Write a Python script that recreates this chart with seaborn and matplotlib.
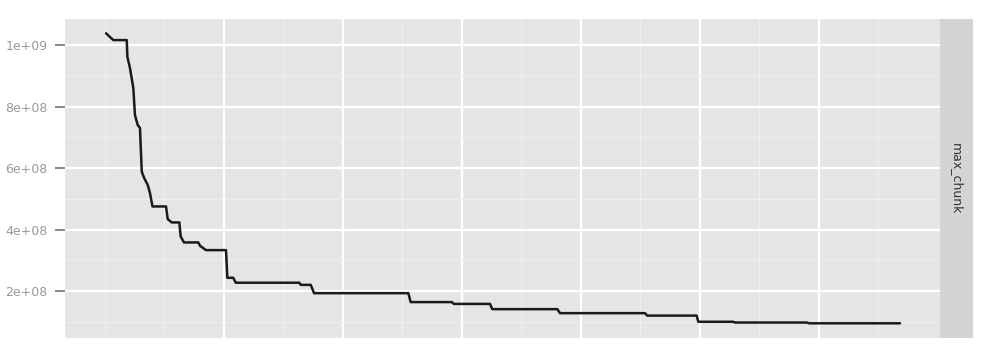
import matplotlib
matplotlib.use("Agg")
import matplotlib.pyplot as plt
import seaborn as sns
import pandas as pd
import numpy as np

# ---- data ----
rank = [13, 74, 187, 192, 214, 242, 256, 279, 298, 313, 334, 363, 382, 403, 517,
        531, 565, 629, 640, 668, 788, 803, 853, 1021, 1032, 1082, 1103, 1637, 1649,
        1733, 1761, 2553, 2573, 2918, 2937, 3239, 3259, 3805, 3828, 4542, 4561,
        4976, 4990, 5282, 5298, 5903, 5920, 6685]
max_chunk = [10.38, 10.16, 10.16, 9.62, 9.25, 8.60, 7.72, 7.40, 7.30, 5.88, 5.67,
             5.45, 5.19, 4.75, 4.75, 4.34, 4.23, 4.23, 3.77, 3.58, 3.58, 3.47,
             3.33, 3.33, 2.43, 2.43, 2.27, 2.27, 2.20, 2.20, 1.93, 1.93, 1.64,
             1.64, 1.58, 1.58, 1.41, 1.41, 1.28, 1.28, 1.20, 1.20, 1.00, 1.00,
             0.975, 0.975, 0.95, 0.95]  # in units of 1e8
y_ticks = [2e8, 4e8, 6e8, 8e8, 1e9]
y_tick_labels = ["2e+08", "4e+08", "6e+08", "8e+08", "1e+09"]
x_major = [1000, 2000, 3000, 4000, 5000, 6000]
x_minor = [0, 500, 1500, 2500, 3500, 4500, 5500, 6500]
facet_label = "max_chunk"

df = pd.DataFrame({"rank": rank, "value": np.array(max_chunk) * 1e8})

sns.set_theme(style="darkgrid")
plt.rcParams["font.family"] = ["DejaVu Sans"]

fig = plt.figure(figsize=(10, 3.49), dpi=100)
fig.patch.set_facecolor("white")
ax = fig.add_axes([0.065, 1 - 338 / 349, 0.875, (338 - 19) / 349])
strip = fig.add_axes([0.94, 1 - 338 / 349, 0.033, (338 - 19) / 349])

sns.lineplot(data=df, x="rank", y="value", ax=ax, color="#1a1a1a",
             linewidth=1.8, estimator=None, sort=False)

ax.set_facecolor("#E5E5E5")
ax.set_xlim(-332, 7021)
ax.set_ylim(0.472e8, 10.846e8)
ax.set_xticks(x_major)
ax.set_xticks(x_minor, minor=True)
ax.set_yticks(y_ticks)
ax.set_yticklabels(y_tick_labels)
ax.set_yticks([1e8, 3e8, 5e8, 7e8, 9e8], minor=True)
ax.grid(True, which="major", color="white", linewidth=1.6)
ax.grid(True, which="minor", color="#F0F0F0", linewidth=0.7)
ax.set_axisbelow(True)
ax.tick_params(axis="x", which="both", length=0, labelbottom=False)
ax.tick_params(axis="y", which="major", length=7.5, width=1.3, color="#7F7F7F",
               labelcolor="#999999", labelsize=9, pad=5, left=True)
ax.tick_params(axis="y", which="minor", length=0)
ax.set_xlabel("")
ax.set_ylabel("")
for s in ax.spines.values():
    s.set_visible(False)

strip.set_facecolor("#D4D4D4")
strip.set_xticks([])
strip.set_yticks([])
for s in strip.spines.values():
    s.set_visible(False)
strip.grid(False)
strip.text(0.5, 0.5, facet_label, rotation=-90, ha="center", va="center",
           fontsize=9, color="#333333", transform=strip.transAxes)

fig.savefig("out.png", dpi=100, facecolor="white")
